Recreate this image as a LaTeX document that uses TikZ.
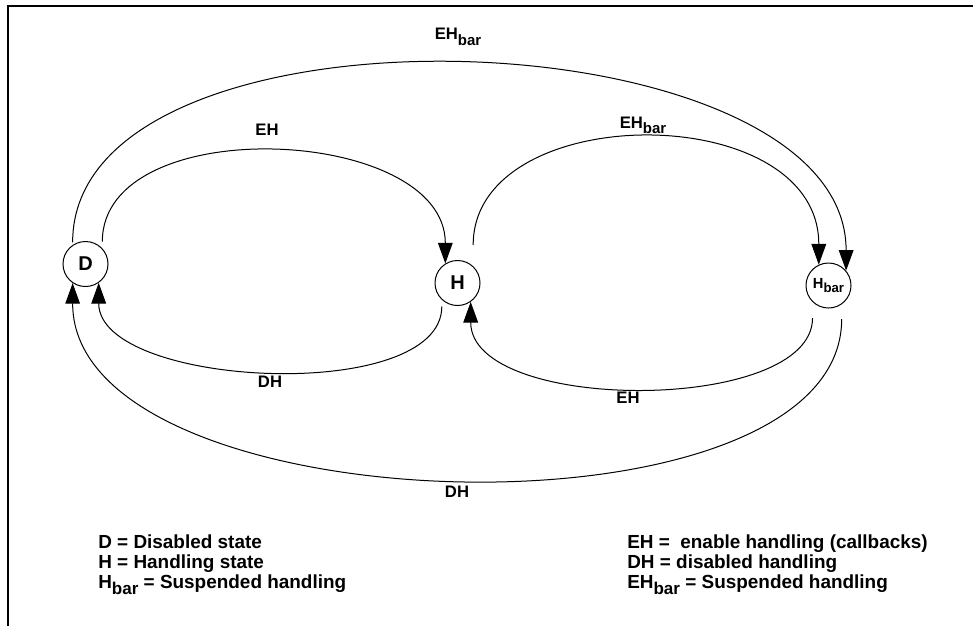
\documentclass[tikz,border=0pt]{standalone}
\usepackage{fontspec}
\setmainfont{Liberation Sans}
\usetikzlibrary{arrows.meta}
\newcommand{\Sub}[1]{\raisebox{-0.32em}{\scalebox{0.9}{#1}}}
\begin{document}
\begin{tikzpicture}[x=0.75pt,y=-0.75pt,
  state/.style={circle,draw,line width=0.75pt,minimum size=33.75pt,inner sep=0pt},
  arr/.style={line width=0.75pt,-{Triangle[length=15.5pt,width=11pt]}},
  lbl/.style={font=\bfseries\fontsize{12.5}{14}\selectfont,inner sep=0pt},
  legend/.style={font=\bfseries\fontsize{14.2}{15}\selectfont,anchor=base west,inner sep=0pt}
]
\useasboundingbox (0,0) rectangle (973,626);
\draw[line width=1.5pt] (8.3,626) -- (8.3,5.7) -- (973,5.7);

% states
\node[state] (D) at (85.5,264) {\bfseries\fontsize{15}{15}\selectfont D};
\node[state] (H) at (457.5,283) {\bfseries\fontsize{15}{15}\selectfont H};
\node[state] (Hb) at (828.5,285.5) {\bfseries\fontsize{11}{12}\selectfont H\Sub{bar}};

% transitions
\draw[arr,shorten <=2pt] (D.124) .. controls +(0,-258) and +(0,-258) .. (Hb.40);
\draw[arr,shorten <=5pt] (D.43) .. controls +(0,-138) and +(0,-138) .. (H.122);
\draw[arr,shorten <=16pt] (H.47) .. controls +(0,-167) and +(0,-167) .. (Hb.115);
\draw[arr,shorten <=5pt] (H.227) .. controls +(0,105) and +(0,105) .. (D.305);
\draw[arr,shorten <=12pt] (Hb.226) .. controls +(0,112) and +(0,112) .. (H.305);
\draw[arr,shorten <=11pt] (Hb.305) .. controls +(0,245) and +(0,245) .. (D.236);

% transition labels
\node[lbl] (l1) at (458,37) {EH\Sub{bar}};
\node[lbl] (l2) at (267,130) {EH};
\node[lbl] (l3) at (643,125) {EH\Sub{bar}};
\node[lbl] (l4) at (270,382) {DH};
\node[lbl] (l5) at (628,398) {EH};
\node[lbl] (l6) at (457,492) {DH};

% legend
\node[legend] (a1) at (98,548) {D = Disabled state};
\node[legend] (a2) at (98,568) {H = Handling state};
\node[legend] (a3) at (98,588) {H\Sub{bar} = Suspended handling};
\node[legend] (b1) at (627,548) {EH =\ \ enable handling (callbacks)};
\node[legend] (b2) at (627,568) {DH = disabled handling};
\node[legend] (b3) at (627,588) {EH\Sub{bar} = Suspended handling};
\end{tikzpicture}
\end{document}
